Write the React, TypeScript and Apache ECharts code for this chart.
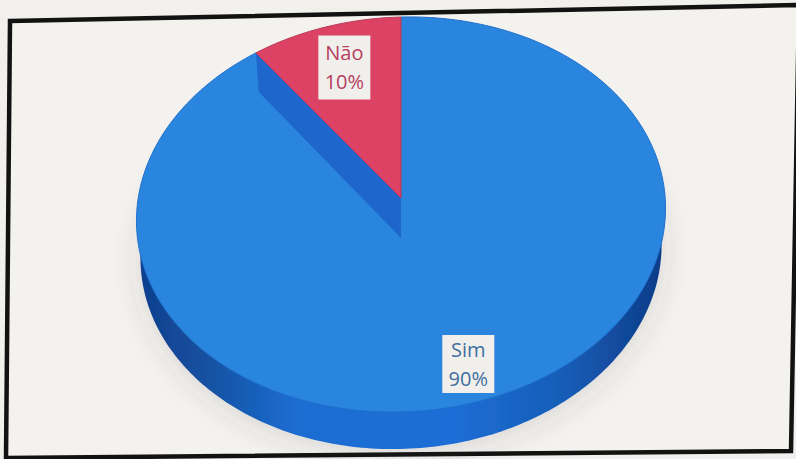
import React, { useEffect, useRef } from "react";
import * as echarts from "echarts";

const categories = ["Sim", "Não"];
const shares = [90, 10];
const topColors = ["#2a85df", "#dc4263"];
const labelInk = ["#3f6f9f", "#b5405f"];

const WIDTH = 796;
const HEIGHT = 459;

// Perspective projection of the disc: the far rim is drawn smaller than the near rim.
const APEX_X = 401;
const APEX_Y = 198;
const SPREAD_X = 263.6;
const SPREAD_Y = 196.1;
const FORESHORTEN = 0.0836;
const SKEW = 0.024;
const DEPTH = 37;
const FRAME = [[10, 21], [799, 5], [791, 451], [6, 458]];

function project(turn: number, radius: number, drop = 0, squeeze = 1): number[] {
  const a = turn * Math.PI * 2;
  const across = radius * Math.sin(a);
  const along = radius * Math.cos(a);
  const w = 1 + FORESHORTEN * along;
  const x = APEX_X + (squeeze * SPREAD_X * across) / w;
  const y = APEX_Y - (SPREAD_Y * along) / w;
  return [x, y - SKEW * (x - APEX_X) + drop];
}

function rim(from: number, to: number, drop = 0, squeeze = 1): number[][] {
  const pts: number[][] = [];
  const steps = Math.max(2, Math.ceil((to - from) * 360));
  for (let i = 0; i <= steps; i++) {
    pts.push(project(from + ((to - from) * i) / steps, 1, drop, squeeze));
  }
  return pts;
}

function renderSlice(params: any, api: any) {
  const i = params.dataIndex;
  const total = shares.reduce((s, v) => s + v, 0);
  const start = shares.slice(0, i).reduce((s, v) => s + v, 0) / total;
  const share = api.value(0) / total;
  const end = start + share;
  const apex = project(0, 0);
  const children: any[] = [];

  if (i === 0) {
    // Side wall of the disc, sitting underneath the top faces
    children.push({
      type: "polygon",
      shape: { points: rim(0, 1, DEPTH, 0.985) },
      style: {
        fill: new echarts.graphic.LinearGradient(0, 0, 1, 0, [
          { offset: 0, color: "#103f8e" },
          { offset: 0.12, color: "#14509f" },
          { offset: 0.3, color: "#1c6dd2" },
          { offset: 0.6, color: "#1c6ed6" },
          { offset: 0.82, color: "#165cb6" },
          { offset: 1, color: "#0e3c88" },
        ]),
        shadowColor: "rgba(60,60,60,0.16)",
        shadowBlur: 28,
        shadowOffsetY: 4,
      },
    });
  } else {
    // Exposed inner wall where this wedge meets the larger slice
    const edge = project(start, 1);
    children.push({
      type: "polygon",
      shape: {
        points: [edge, [edge[0] + 3, edge[1] + DEPTH + 2], [apex[0], apex[1] + DEPTH + 3], apex],
      },
      style: { fill: "#1e65cc" },
    });
  }

  children.push({
    type: "polygon",
    shape: { points: [apex, ...rim(start, end)] },
    style: { fill: topColors[i], stroke: i === 0 ? "#1f70cc" : "#b93a58", lineWidth: 1 },
  });

  // Category and percentage plate placed along the slice's middle direction
  const small = share < 0.5;
  const mid = project((start + end) / 2, small ? 0.75 : 0.84);
  const plateX = mid[0] + (small ? 1 : -6);
  const plateH = small ? 64 : 58;
  children.push(
    {
      type: "rect",
      shape: { x: plateX - 26, y: mid[1] - plateH / 2, width: 52, height: plateH },
      style: { fill: "#f1efec" },
    },
    {
      type: "text",
      x: plateX,
      y: mid[1],
      style: {
        text: `${categories[i]}\n${api.value(0)}%`,
        fill: labelInk[i],
        font: '20px "Open Sans"',
        lineHeight: 29,
        align: "center",
        verticalAlign: "middle",
      },
    },
  );

  return { type: "group", children };
}

export default function App() {
  const ref = useRef<HTMLDivElement>(null);

  useEffect(() => {
    const chart = echarts.init(ref.current!, undefined, { renderer: "svg" });
    chart.setOption({
      animation: false,
      backgroundColor: "#f2f0ed",
      graphic: [
        {
          type: "polygon",
          z: 0,
          shape: { points: FRAME },
          style: { fill: "#f4f2ef", stroke: "#121212", lineWidth: 4.5 },
        },
      ],
      series: [
        {
          type: "custom",
          coordinateSystem: "none",
          z: 5,
          silent: true,
          renderItem: renderSlice,
          data: shares.map((v, i) => ({ name: categories[i], value: [v] })),
        },
      ],
    });
    return () => chart.dispose();
  }, []);

  return (
    <div
      ref={ref}
      style={{ position: "absolute", left: 0, top: 0, width: WIDTH, height: HEIGHT }}
    />
  );
}
